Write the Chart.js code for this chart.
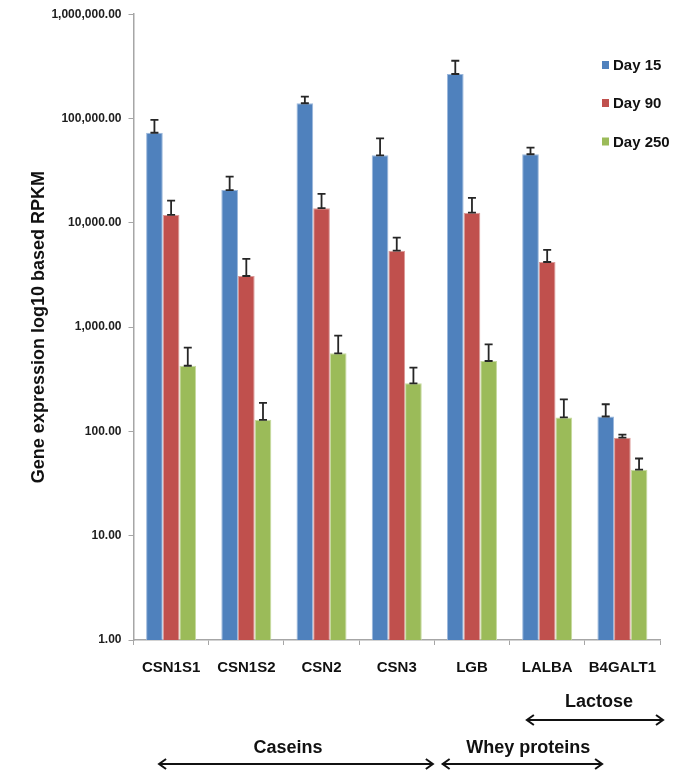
<!DOCTYPE html>
<html>
<head>
<meta charset="utf-8">
<script src="https://cdn.jsdelivr.net/npm/chart.js@4/dist/chart.umd.min.js"></script>
<style>
  html, body { margin: 0; padding: 0; background: #ffffff; }
  #wrap { position: relative; width: 683px; height: 773px; }
</style>
</head>
<body>
<div id="wrap"><canvas id="chart"></canvas></div>
<script>
// Milk protein and lactose gene expression (RPKM) at three lactation stages
const genes = ['CSN1S1', 'CSN1S2', 'CSN2', 'CSN3', 'LGB', 'LALBA', 'B4GALT1'];
const seriesNames = ['Day 15', 'Day 90', 'Day 250'];

const day15 = [73000, 20600, 140000, 44400, 267000, 45400, 139];
const day90 = [11900, 3090, 13800, 5400, 12500, 4210, 87];
const day250 = [426, 129, 561, 289, 473, 136, 43];

// upper error (+SE) for each bar
const day15Err = [23800, 7100, 22000, 20200, 91000, 7100, 43];
const day90Err = [4400, 1410, 5100, 1800, 4800, 1280, 6];
const day250Err = [209, 59, 266, 119, 211, 67, 12];

const yTicks = [1, 10, 100, 1000, 10000, 100000, 1000000];

// gene groups shown under the axis, as category-index spans
const groupNames = ['Caseins', 'Whey proteins', 'Lactose'];
const groupFrom = [-0.16, 3.61, 4.73];
const groupTo = [3.48, 5.73, 6.54];

const colors = ['#4F81BD', '#C0504D', '#9BBB59'];
const edgeColors = ['#9cb8dc', '#dc9a98', '#c6da9e'];
const FONT = '"Liberation Sans", Arial, Helvetica, sans-serif';

const values = [day15, day90, day250];
const errors = [day15Err, day90Err, day250Err];

const datasets = seriesNames.map((name, i) => ({
  label: name,
  data: values[i],
  errPlus: errors[i],
  backgroundColor: colors[i],
  borderColor: edgeColors[i],
  borderWidth: { top: 1, left: 1, right: 1, bottom: 0 },
  borderSkipped: 'bottom',
  categoryPercentage: 0.665,
  barPercentage: 1.0
}));

const errorBars = {
  id: 'errorBars',
  afterDatasetsDraw(chart) {
    const ctx = chart.ctx;
    const y = chart.scales.y;
    ctx.save();
    ctx.strokeStyle = '#262626';
    ctx.lineWidth = 1.8;
    chart.data.datasets.forEach((ds, di) => {
      const meta = chart.getDatasetMeta(di);
      meta.data.forEach((bar, j) => {
        const v = ds.data[j];
        const top = y.getPixelForValue(v + ds.errPlus[j]);
        const base = y.getPixelForValue(v);
        const cap = 4;
        ctx.beginPath();
        ctx.moveTo(bar.x, base);
        ctx.lineTo(bar.x, top);
        ctx.moveTo(bar.x - cap, top);
        ctx.lineTo(bar.x + cap, top);
        ctx.moveTo(bar.x - cap, base);
        ctx.lineTo(bar.x + cap, base);
        ctx.stroke();
      });
    });
    ctx.restore();
  }
};

const sideLegend = {
  id: 'sideLegend',
  afterDraw(chart) {
    const ctx = chart.ctx;
    const area = chart.chartArea;
    const x0 = area.right - 58;
    const rows = [65, 103, 141.5];
    ctx.save();
    ctx.font = 'bold 15px ' + FONT;
    ctx.textBaseline = 'middle';
    ctx.textAlign = 'left';
    chart.data.datasets.forEach((ds, i) => {
      ctx.fillStyle = ds.backgroundColor;
      ctx.fillRect(x0, rows[i] - 4, 7, 8);
      ctx.fillStyle = '#111111';
      ctx.fillText(ds.label, x0 + 11, rows[i] + 1);
    });
    ctx.restore();
  }
};

function arrow(ctx, x1, x2, y) {
  const h = 7, w = 5;
  ctx.beginPath();
  ctx.moveTo(x1, y);
  ctx.lineTo(x2, y);
  ctx.moveTo(x1 + h, y - w);
  ctx.lineTo(x1, y);
  ctx.lineTo(x1 + h, y + w);
  ctx.moveTo(x2 - h, y - w);
  ctx.lineTo(x2, y);
  ctx.lineTo(x2 - h, y + w);
  ctx.stroke();
}

const groupArrows = {
  id: 'groupArrows',
  afterDraw(chart) {
    const ctx = chart.ctx;
    const xs = chart.scales.x;
    const bottom = chart.chartArea.bottom;
    // Lactose sits on an upper row, the protein groups on the lower row
    const arrowY = [bottom + 124, bottom + 124, bottom + 80];
    const textY = [bottom + 108, bottom + 108, bottom + 62];
    const textShift = [-8, 6, 4];
    ctx.save();
    ctx.strokeStyle = '#111111';
    ctx.fillStyle = '#111111';
    ctx.lineWidth = 2;
    ctx.lineJoin = 'miter';
    ctx.font = 'bold 18px ' + FONT;
    ctx.textAlign = 'center';
    ctx.textBaseline = 'middle';
    groupNames.forEach((name, i) => {
      const a = xs.getPixelForValue(groupFrom[i]);
      const b = xs.getPixelForValue(groupTo[i]);
      arrow(ctx, a, b, arrowY[i]);
      ctx.fillText(name, (a + b) / 2 + textShift[i], textY[i]);
    });
    ctx.restore();
  }
};

new Chart(document.getElementById('chart'), {
  type: 'bar',
  data: { labels: genes, datasets },
  plugins: [errorBars, sideLegend, groupArrows],
  options: {
    responsive: true,
    maintainAspectRatio: false,
    animation: false,
    layout: { padding: { top: 14, right: 23, bottom: 0, left: 0 } },
    plugins: {
      legend: { display: false },
      tooltip: { enabled: false }
    },
    scales: {
      x: {
        offset: true,
        grid: {
          offset: true,
          drawOnChartArea: false,
          drawTicks: true,
          tickLength: 5,
          color: '#a6a6a6',
          lineWidth: 1
        },
        border: { color: '#a6a6a6', width: 1.5 },
        ticks: {
          color: '#111111',
          padding: 14,
          font: { family: FONT, size: 15, weight: 'bold' },
          maxRotation: 0,
          autoSkip: false
        },
        afterFit(scale) { scale.height = 133; }
      },
      y: {
        type: 'logarithmic',
        min: 1,
        max: 1000000,
        afterBuildTicks(scale) {
          scale.ticks = yTicks.map(v => ({ value: v, major: true }));
        },
        grid: {
          drawOnChartArea: false,
          drawTicks: true,
          tickLength: 5,
          color: '#a6a6a6'
        },
        border: { color: '#a6a6a6', width: 1.5 },
        ticks: {
          color: '#1e1e1e',
          padding: 7,
          font: { family: FONT, size: 12, weight: 'bold' },
          callback: v => Number(v).toLocaleString('en-US', { minimumFractionDigits: 2, maximumFractionDigits: 2 })
        },
        title: {
          display: true,
          text: 'Gene expression log10 based RPKM',
          color: '#111111',
          font: { family: FONT, size: 18, weight: 'bold' },
          padding: { top: 28, bottom: 0 }
        },
        afterFit(scale) { scale.width = 133.5; }
      }
    }
  }
});
</script>
</body>
</html>
